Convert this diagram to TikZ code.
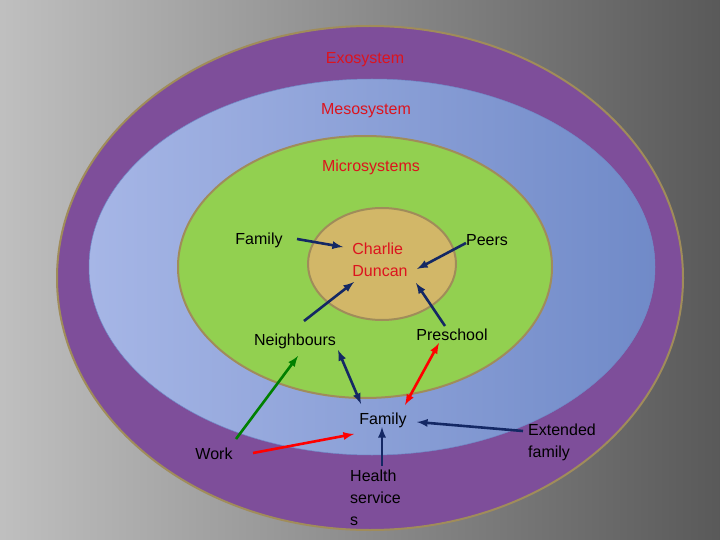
\documentclass[tikz,border=0pt]{standalone}
\usepackage{fontspec}
\setmainfont{Liberation Sans}
\definecolor{purp}{RGB}{126,78,154}
\definecolor{blueA}{RGB}{166,182,230}
\definecolor{blueB}{RGB}{112,138,200}
\definecolor{grn}{RGB}{146,208,80}
\definecolor{tan}{RGB}{210,183,104}
\definecolor{rim}{RGB}{160,140,90}
\definecolor{navy}{RGB}{20,40,100}
\definecolor{txtred}{RGB}{220,20,30}
\begin{document}
\begin{tikzpicture}[x=1pt,y=-1pt,
  lbl/.style={font=\fontsize{16}{22}\selectfont, inner sep=0pt},
  sys/.style={lbl, text=txtred},
  ring/.style={draw=rim, line width=2pt},
  arr/.style={-latex, line width=2.6pt, draw=navy},
  darr/.style={latex-latex, line width=2.6pt, draw=navy}]
\useasboundingbox (0,0) rectangle (720,540);
\shade[left color=gray!50, right color=black!65] (0,0) rectangle (720,540);
\begin{scope}
\clip (0,0) rectangle (720,540);
\fill[ring, fill=purp] (370,278) ellipse [x radius=313, y radius=252];
\shade[left color=blueA, right color=blueB, draw=none] (372,267) ellipse [x radius=283, y radius=188];
\draw[blueB, line width=0.5pt] (372,267) ellipse [x radius=283, y radius=188];
\fill[ring, fill=grn] (365,267) ellipse [x radius=187, y radius=131];
\fill[ring, fill=tan] (382,264) ellipse [x radius=74, y radius=56];
\end{scope}
\node[sys] (exo) at (365,60) {Exosystem};
\node[sys] (meso) at (366,111) {Mesosystem};
\node[sys] (micro) at (371,167) {Microsystems};
\node[lbl] (fam1) at (259,240) {Family};
\node[lbl, text=txtred, align=left] (cd) at (380,260) {Charlie\\Duncan};
\node[lbl] (peers) at (487,240) {Peers};
\node[lbl] (neigh) at (295,341) {Neighbours};
\node[lbl] (pre) at (452,335) {Preschool};
\node[lbl] (fam2) at (383,420) {Family};
\node[lbl] (work) at (214,454) {Work};
\node[lbl, align=left] (ext) at (562,442) {Extended\\family};
\node[lbl, align=left, anchor=north west] (health) at (350,470) {Health\\service\\s};
\coordinate (a1) at (297,239); \coordinate (a2) at (343,247);
\coordinate (b1) at (466,243); \coordinate (b2) at (417,269);
\coordinate (c1) at (304,321); \coordinate (c2) at (354,282);
\coordinate (d1) at (445,326); \coordinate (d2) at (416,283);
\coordinate (e1) at (338,350); \coordinate (e2) at (361,404);
\coordinate (f1) at (439,343); \coordinate (f2) at (405,405);
\coordinate (g1) at (236,439); \coordinate (g2) at (298,356);
\coordinate (h1) at (253,453); \coordinate (h2) at (354,434);
\coordinate (i1) at (382,466); \coordinate (i2) at (382,427);
\coordinate (j1) at (523,431); \coordinate (j2) at (417,422);
\draw[arr] (a1) -- (a2);
\draw[arr] (b1) -- (b2);
\draw[arr] (c1) -- (c2);
\draw[arr] (d1) -- (d2);
\draw[darr] (e1) -- (e2);
\draw[darr, draw=red] (f1) -- (f2);
\draw[arr, draw=green!50!black] (g1) -- (g2);
\draw[arr, draw=red] (h1) -- (h2);
\draw[arr] (i1) -- (i2);
\draw[arr] (j1) -- (j2);
\end{tikzpicture}
\end{document}
